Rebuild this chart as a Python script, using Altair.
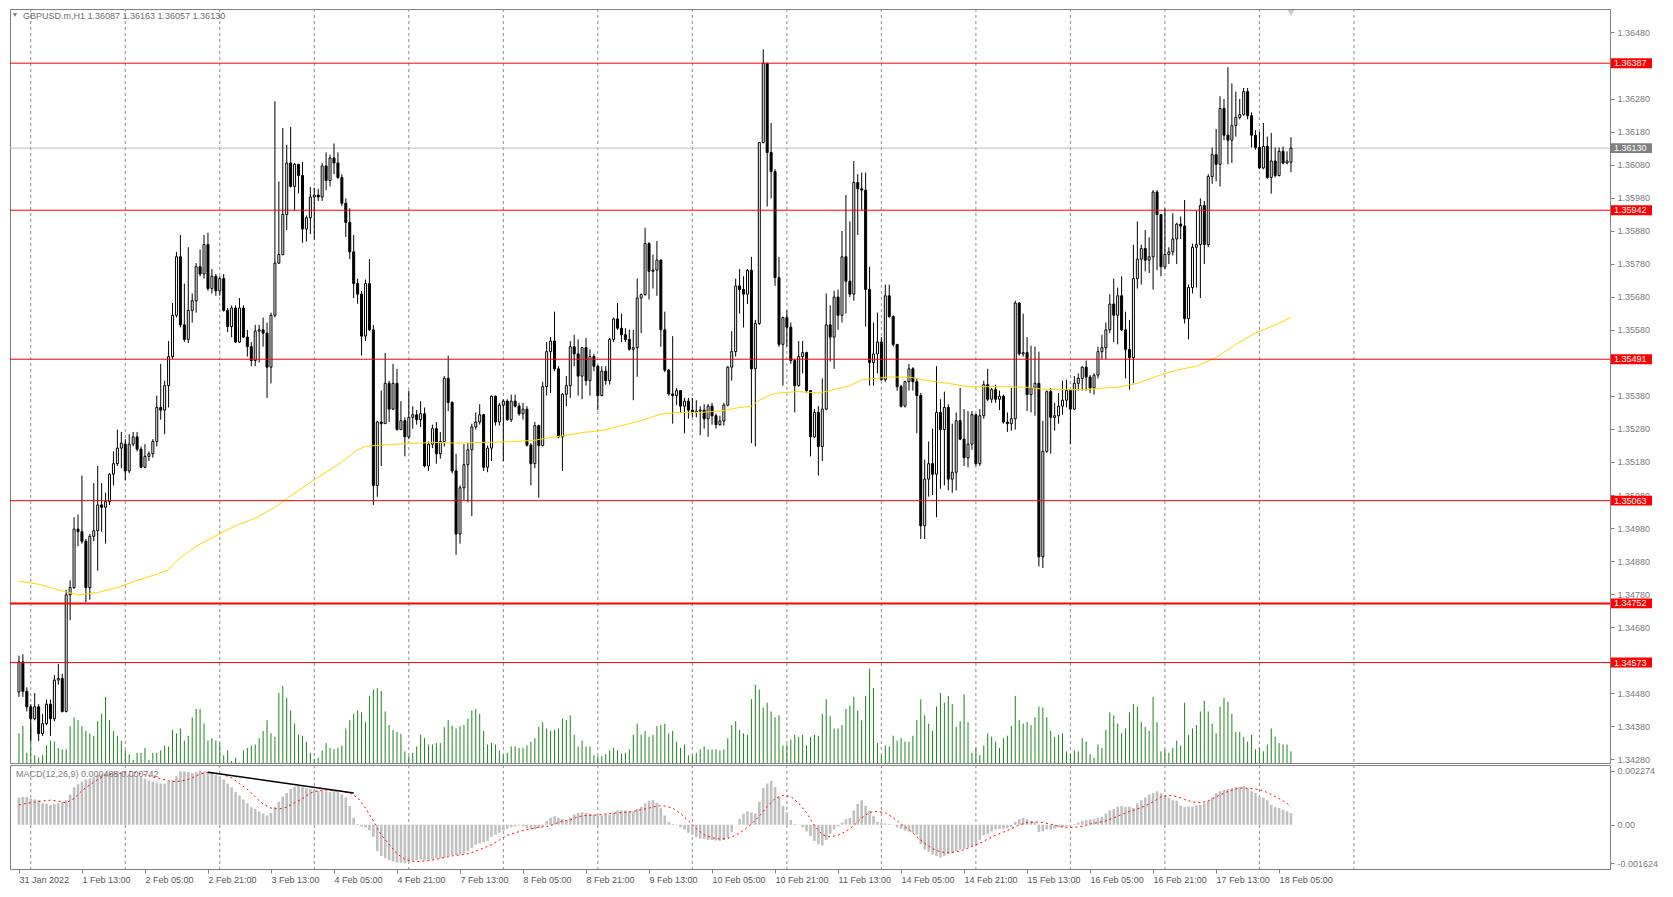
import altair as alt
import pandas as pd

# ---------------- data (prices in points, 1 point = 0.00001) ----------------
open_pts = [
134484,134575,134486,134439,134403,134439,134358,134388,134447,134403,
134520,134525,134425,134778,134800,134977,134969,134940,134800,134955,
134972,135050,135043,135060,135143,135175,135222,135234,135153,135234,
135256,135219,135164,135197,135205,135242,135345,135337,135411,135499,
135624,135801,135595,135551,135639,135668,135771,135749,135838,135705,
135742,135698,135735,135639,135590,135646,135543,135646,135558,135529,
135487,135576,135580,135570,135467,135624,135782,135808,135929,136085,
136014,136081,136047,135885,135919,135982,135988,135982,136076,136032,
136100,136085,136041,135963,135905,135816,135720,135688,135561,135720,
135580,135109,135301,135296,135418,135340,135418,135278,135305,135256,
135315,135323,135308,135326,135168,135234,135281,135205,135242,135433,
135360,135153,134962,135102,135172,135217,135286,135301,135323,135164,
135222,135379,135301,135352,135364,135308,135364,135349,135326,135340,
135231,135175,135290,135230,135408,135514,135546,135462,135256,135385,
135411,135529,135507,135440,135526,135426,135499,135470,135381,135455,
135426,135551,135613,135585,135565,135551,135521,135526,135676,135687,
135841,135757,135761,135791,135580,135458,135386,135381,135396,135349,
135364,135337,135330,135334,135337,135311,135349,135320,135293,135304,
135352,135467,135514,135713,135702,135688,135760,135462,135599,136147,
136387,136117,136059,135738,135536,135617,135588,135487,135411,135499,
135511,135396,135256,135330,135227,135340,135595,135558,135679,135624,
135801,135727,135688,136026,136007,136003,135702,135481,135507,135543,
135429,135683,135620,135536,135408,135349,135423,135462,135423,135381,
134987,135128,135175,135143,135330,135278,135345,135128,135149,135305,
135249,135193,135234,135323,135175,135320,135414,135370,135399,135370,
135379,135301,135296,135311,135661,135507,135511,135384,135404,135418,
134893,135212,135393,135315,135320,135349,135367,135396,135340,135418,
135433,135467,135437,135404,135443,135514,135526,135580,135658,135624,
135683,135580,135521,135496,135735,135794,135826,135791,135801,135997,
135929,135771,135808,135816,135855,135900,135894,135614,135708,135830,
135838,135956,135838,136044,136110,136081,136250,136169,136154,136198,
136223,136232,136301,136228,136169,136132,136070,136135,136041,136091,
136047,136120,136085,136087]

high_pts = [
134594,134598,134498,134447,134481,134447,134417,134461,134461,134535,
134569,134539,134793,134822,135013,135021,135139,134947,134962,135116,
135168,135116,135087,135146,135212,135278,135271,135249,135264,135271,
135271,135227,135234,135212,135249,135381,135477,135426,135546,135661,
135816,135867,135720,135830,135690,135782,135823,135867,135874,135764,
135749,135742,135749,135646,135654,135654,135676,135654,135580,135543,
135595,135595,135617,135602,135632,136272,136029,136191,136140,136194,
136085,136081,136088,135926,136012,136010,136007,136085,136117,136110,
136144,136117,136051,135978,135948,135867,135735,135698,135732,135794,
135595,135305,135396,135510,135426,135477,135462,135364,135315,135396,
135349,135337,135364,135345,135242,135293,135301,135271,135440,135502,
135364,135205,135109,135234,135237,135296,135330,135355,135326,135230,
135381,135381,135359,135370,135370,135384,135384,135359,135359,135349,
135237,135301,135293,135423,135543,135558,135635,135470,135389,135440,
135546,135565,135551,135529,135555,135521,135507,135473,135470,135470,
135555,135617,135661,135629,135585,135580,135580,135735,135690,135889,
135845,135808,135849,135794,135635,135462,135561,135404,135396,135374,
135374,135374,135367,135349,135355,135355,135359,135326,135320,135359,
135470,135576,135735,135764,135742,135764,135801,135610,136147,136429,
136387,136206,136066,135801,135620,135639,135602,135492,135546,135546,
135514,135396,135340,135349,135433,135690,135654,135698,135702,135879,
135988,135908,136091,136051,136056,136056,135771,135602,135632,135558,
135717,135717,135624,135536,135414,135426,135477,135467,135433,135389,
135187,135242,135281,135470,135370,135393,135355,135296,135330,135404,
135340,135334,135334,135326,135340,135426,135462,135404,135414,135396,
135384,135330,135404,135668,135664,135629,135558,135532,135529,135514,
135305,135396,135404,135359,135389,135426,135429,135399,135440,135448,
135470,135487,135443,135448,135529,135565,135602,135688,135735,135708,
135742,135635,135610,135838,135908,135838,135882,135860,136003,136003,
135929,135948,135830,135933,135904,135923,135973,135717,135841,135941,
135978,135970,136051,136132,136188,136287,136279,136375,136326,136301,
136279,136312,136312,136238,136184,136179,136206,136165,136176,136132,
136132,136135,136120,136163]

low_pts = [
134469,134469,134425,134336,134398,134336,134351,134383,134351,134395,
134506,134422,134422,134701,134796,134925,134933,134756,134763,134940,
134851,134969,134933,135050,135109,135168,135161,135124,135146,135227,
135212,135161,135161,135183,135193,135227,135308,135264,135345,135492,
135617,135587,135543,135540,135602,135632,135742,135735,135698,135690,
135683,135683,135635,135573,135558,135540,135540,135555,135499,135470,
135470,135481,135529,135374,135418,135617,135779,135805,135882,136011,
135941,135993,135843,135847,135870,135853,135970,135970,136003,136014,
136051,136037,135955,135861,135794,135676,135659,135502,135546,135576,
135050,135075,135168,135296,135301,135337,135275,135278,135197,135249,
135281,135293,135286,135164,135153,135222,135175,135190,135227,135334,
135146,134899,134933,135065,135058,135016,135278,135293,135153,135149,
135183,135290,135290,135183,135305,135301,135345,135320,135308,135227,
135109,135161,135072,135227,135381,135389,135455,135252,135153,135349,
135374,135470,135381,135370,135411,135381,135455,135337,135379,135414,
135414,135543,135580,135543,135543,135517,135367,135438,135570,135683,
135672,135705,135683,135529,135452,135381,135296,135352,135330,135267,
135311,135315,135315,135261,135281,135256,135293,135281,135290,135290,
135349,135426,135499,135629,135587,135658,135237,135227,135595,136144,
135953,135978,135713,135529,135411,135529,135477,135330,135408,135448,
135389,135197,135252,135139,135183,135337,135484,135462,135580,135602,
135629,135679,135668,135867,135941,135590,135411,135411,135448,135426,
135423,135617,135529,135396,135345,135345,135396,135396,135267,134947,
134947,135075,135080,135013,135099,135109,135094,135087,135094,135246,
135168,135164,135217,135168,135168,135311,135364,135359,135359,135337,
135296,135271,135275,135278,135502,135499,135334,135330,135320,134864,
134859,135208,135205,135275,135296,135323,135345,135234,135337,135396,
135396,135396,135389,135384,135433,135492,135492,135570,135543,135536,
135576,135433,135399,135418,135705,135717,135757,135752,135702,135761,
135742,135764,135779,135805,135779,135855,135599,135551,135690,135708,
135676,135779,135830,136022,136029,136014,136154,136081,136085,136165,
136217,136228,136217,136132,136125,136066,136066,136037,135992,136041,
136044,136081,136081,136057]

close_pts = [
134575,134486,134439,134403,134439,134358,134388,134447,134403,134520,
134525,134425,134778,134800,134977,134969,134940,134800,134955,134972,
135050,135043,135060,135143,135175,135222,135237,135153,135234,135256,
135219,135164,135197,135205,135242,135345,135337,135411,135499,135624,
135801,135595,135551,135639,135668,135771,135749,135838,135705,135742,
135698,135735,135639,135590,135646,135543,135646,135558,135529,135487,
135576,135580,135570,135467,135624,135782,135808,135929,136085,136014,
136081,136047,135885,135919,135982,135988,135982,136076,136032,136100,
136085,136041,135963,135905,135816,135720,135688,135561,135720,135580,
135109,135301,135296,135418,135340,135418,135278,135305,135256,135315,
135323,135308,135326,135168,135234,135281,135205,135242,135433,135360,
135153,134962,135102,135172,135217,135286,135301,135323,135164,135222,
135379,135301,135352,135364,135308,135364,135349,135326,135340,135231,
135175,135290,135230,135408,135514,135546,135462,135256,135385,135411,
135529,135507,135440,135526,135426,135499,135470,135381,135455,135426,
135551,135613,135585,135565,135551,135521,135526,135676,135687,135841,
135757,135761,135791,135580,135458,135386,135381,135396,135349,135364,
135337,135330,135334,135337,135311,135349,135320,135293,135304,135352,
135467,135514,135713,135702,135688,135760,135462,135599,136147,136387,
136117,136059,135738,135536,135617,135588,135487,135411,135499,135511,
135396,135256,135330,135227,135340,135595,135558,135679,135624,135801,
135727,135688,136026,136007,136003,135702,135481,135507,135543,135429,
135683,135620,135536,135408,135349,135423,135462,135423,135381,134987,
135128,135175,135143,135330,135278,135345,135128,135149,135305,135249,
135193,135234,135323,135175,135320,135414,135370,135399,135370,135379,
135301,135296,135311,135661,135507,135511,135384,135404,135418,134893,
135212,135393,135315,135320,135349,135367,135396,135340,135418,135433,
135467,135437,135404,135443,135514,135526,135580,135658,135624,135683,
135580,135521,135496,135735,135794,135826,135791,135801,135997,135929,
135771,135808,135816,135855,135900,135894,135614,135708,135830,135838,
135956,135838,136044,136110,136081,136250,136169,136154,136198,136223,
136232,136301,136228,136169,136132,136070,136135,136041,136091,136047,
136120,136085,136091,136130]

volume_ticks = [
1220,1520,420,1520,320,220,320,720,920,880,
620,560,560,1520,1880,1760,1520,1320,1220,1120,
1720,2020,2720,1760,1320,1120,920,520,360,120,
420,420,620,120,420,420,520,720,680,1360,
1220,1420,920,1120,1880,2220,2220,1620,920,1020,
920,820,320,520,80,220,20,520,620,720,
760,1020,1320,1760,1220,1080,2880,3160,2680,2160,
1620,1160,1120,880,420,160,220,520,820,620,
560,620,720,1420,1760,2020,2160,2080,1680,2760,
3020,3080,2960,2120,1560,1360,1280,1200,480,280,
420,680,1160,1020,760,760,820,820,1480,1760,
1520,1420,1520,1560,1820,2160,2220,2020,1320,760,
820,760,520,320,420,680,680,620,620,720,
880,1020,1480,1680,1420,1320,1360,1420,1820,1760,
1960,1160,680,920,680,680,320,280,280,360,
520,620,520,380,420,560,1160,1620,1160,1320,
1080,1160,1520,1560,1620,1220,1320,880,620,760,
320,320,420,560,680,560,560,560,520,560,
1020,1560,1720,1360,1220,1160,2620,3220,3020,2280,
2480,2120,1880,1960,720,760,960,1160,1080,1160,
720,1080,1160,1120,2020,2620,1920,1420,1420,1560,
2220,2360,2720,2160,1760,2760,3880,3080,820,320,
720,680,1120,920,1020,880,880,1120,1760,2620,
1960,1620,1320,2320,2880,2480,2760,2420,1480,1720,
2820,1680,420,620,320,720,1220,1080,880,620,
1020,1120,1520,2760,1760,1620,1680,1560,1880,2320,
2280,1880,1320,1080,1160,1220,480,360,520,480,
1020,880,360,220,760,620,1360,2080,1960,1620,
1220,1420,2080,2420,2320,1680,1480,1320,2720,1680,
480,560,420,620,920,720,2480,1160,1420,1560,
2120,2560,2120,1620,1220,2320,2680,2520,2020,1280,
1280,1080,880,1160,560,620,480,760,1420,1080,
820,760,760,480]

macd_hist_pts = [
114,117,117,110,106,103,90,87,83,87,
90,96,103,127,157,170,181,190,194,200,
208,213,217,217,221,224,221,217,213,210,
204,200,194,186,181,177,173,173,181,186,
204,224,224,221,217,221,227,224,221,217,
210,204,190,173,157,137,123,106,90,74,
66,56,47,39,50,76,96,119,133,150,
159,163,159,154,150,146,143,143,141,137,
141,137,127,114,79,29,3,-7,-11,-24,
-51,-111,-131,-141,-149,-154,-158,-160,-162,-158,
-151,-149,-145,-149,-149,-145,-141,-141,-138,-131,
-127,-127,-125,-122,-111,-98,-84,-78,-74,-68,
-51,-42,-34,-24,-17,-11,-7,-4,-7,-15,
-20,-20,-15,-7,16,29,36,29,23,16,
29,43,50,52,50,47,43,39,39,43,
43,50,60,60,60,56,56,66,76,90,
101,103,92,70,39,12,3,-1,-11,-20,
-34,-42,-51,-58,-60,-64,-64,-66,-68,-64,
-55,-31,0,25,47,56,52,47,96,154,
173,184,159,119,79,52,20,3,-1,-11,
-28,-47,-68,-82,-87,-64,-38,-20,-7,9,
23,29,60,87,103,79,60,36,12,9,
5,3,-1,-11,-17,-24,-28,-34,-42,-82,
-105,-114,-125,-131,-138,-131,-122,-118,-111,-105,
-101,-95,-91,-78,-64,-44,-38,-28,-20,-17,
-17,-15,-11,12,23,29,23,16,12,-31,
-28,-20,-20,-15,-11,-11,-7,-4,3,9,
16,20,23,25,29,34,47,60,66,76,
79,74,76,70,90,103,114,127,133,141,
133,123,114,103,101,79,74,76,76,82,
83,90,101,114,133,141,146,150,154,157,
159,163,154,141,133,119,114,103,83,74,
70,63,56,49]

signal_bars = list(range(0, 323, 2)) + [323]
signal_pts = [
83,90,95,100,103,99,92,110,143,168,
190,208,213,217,224,217,210,200,194,184,
181,186,197,213,221,217,210,197,173,150,
117,87,70,66,74,92,110,133,143,146,
143,141,133,114,70,16,-44,-82,-122,-145,
-154,-154,-151,-145,-138,-131,-127,-122,-111,-98,
-84,-64,-44,-34,-24,-17,-11,-8,3,16,
20,34,39,40,43,47,50,52,56,63,
70,79,79,70,47,16,-17,-42,-55,-60,
-58,-44,-24,3,36,76,110,123,119,90,
50,-4,-42,-51,-44,-28,-4,29,52,56,
50,29,3,-20,-51,-78,-101,-114,-118,-114,
-105,-91,-78,-60,-44,-31,-17,-1,9,12,
9,3,-7,-11,-11,-7,3,9,16,29,
43,56,66,79,96,117,123,119,106,96,
92,100,117,133,146,154,154,150,143,127,
110,90,74]

ma_bars = [0,5,10,15,20,25,30,35,38,40,45,50,55,60,65,68,71,76,81,86,
           88,91,96,101,106,111,116,121,126,131,136,138,143,148,153,158,163,168,173,178,
           183,186,188,191,193,198,203,206,211,214,221,226,231,236,241,246,251,256,261,266,
           271,274,279,284,289,294,299,304,309,314,319,323]
ma_pts = [134819,134810,134793,134778,134785,134800,134822,134840,134854,134881,
          134925,134957,134987,135010,135043,135069,135094,135134,135172,135217,
          135227,135230,135234,135237,135239,135237,135239,135240,135242,135246,
          135256,135259,135269,135275,135290,135305,135325,135330,135330,135334,
          135345,135349,135367,135384,135389,135393,135389,135396,135411,135429,
          135437,135437,135426,135418,135408,135408,135408,135406,135399,135399,
          135399,135403,135406,135418,135440,135458,135470,135496,135536,135570,
          135595,135617]

trend_bars = [48, 85]
trend_pts = [221, 133]

time_labels = ["31 Jan 2022", "1 Feb 13:00", "2 Feb 05:00", "2 Feb 21:00", "3 Feb 13:00",
               "4 Feb 05:00", "4 Feb 21:00", "7 Feb 13:00", "8 Feb 05:00", "8 Feb 21:00",
               "9 Feb 13:00", "10 Feb 05:00", "10 Feb 21:00", "11 Feb 13:00", "14 Feb 05:00",
               "14 Feb 21:00", "15 Feb 13:00", "16 Feb 05:00", "16 Feb 21:00", "17 Feb 13:00",
               "18 Feb 05:00"]
label_step = 16
day_start_bars = [3, 27, 51, 75, 99, 123, 147, 171, 195, 219, 243, 267, 291, 315, 339]

red_levels = [1.36387, 1.35942, 1.35491, 1.35063, 1.34752, 1.34573]
red_widths = [1, 1, 1, 1, 2, 1]
current_price = 1.36130
# price scale labels visible in the reference (those fully covered by level tags are not drawn)
price_ticks = [1.3428, 1.3438, 1.3448, 1.3468, 1.3478, 1.3488, 1.3498, 1.3508,
               1.3518, 1.3528, 1.3538, 1.3558, 1.3568, 1.3578, 1.3588, 1.3598,
               1.3608, 1.3618, 1.3628, 1.3648]
macd_ticks = [0.002274, 0.0, -0.001624]
macd_tick_labels = ["0.002274", "0.00", "-0.001624"]
title_text = "GBPUSD.m,H1  1.36087 1.36163 1.36057 1.36130"
macd_text = "MACD(12,26,9) 0.000485 0.000742"

# ---------------- layout / style ----------------
W = 1600
H_MAIN = 754
H_MACD = 104
FONT = "Liberation Sans"
X_DOMAIN = [-1, 402.75]
PRICE_DOMAIN = [1.34269, 1.36551]
MACD_DOMAIN = [-0.00186, 0.00251]
VOL_DOMAIN = [0, 31000]
BOX_HALF = 0.00015

n = len(close_pts)
candles = pd.DataFrame({
    "bar": list(range(n)),
    "open": [v / 1e5 for v in open_pts],
    "high": [v / 1e5 for v in high_pts],
    "low": [v / 1e5 for v in low_pts],
    "close": [v / 1e5 for v in close_pts],
    "volume": volume_ticks,
    "macd": [v / 1e5 for v in macd_hist_pts],
})
sig_df = pd.DataFrame({"bar": signal_bars, "signal": [v / 1e5 for v in signal_pts]})
ma_df = pd.DataFrame({"bar": ma_bars, "ma": [v / 1e5 for v in ma_pts]})
trend_df = pd.DataFrame({"bar": trend_bars, "val": [v / 1e5 for v in trend_pts]})
grid_df = pd.DataFrame({"bar": day_start_bars})
lvl_df = pd.DataFrame({"level": red_levels, "w": red_widths})
box_df = pd.DataFrame({
    "level": red_levels + [current_price],
    "bg": ["#ff0000"] * len(red_levels) + ["#808080"],
})
box_df["top"] = box_df["level"] + BOX_HALF
box_df["bottom"] = box_df["level"] - BOX_HALF
box_df["label"] = [f"{v:.5f}" for v in box_df["level"]]
one = pd.DataFrame({"t": [title_text]})

x_scale = alt.Scale(domain=X_DOMAIN, nice=False, zero=False)
price_scale = alt.Scale(domain=PRICE_DOMAIN, nice=False, zero=False)
macd_scale = alt.Scale(domain=MACD_DOMAIN, nice=False, zero=False)

price_axis = alt.Axis(orient="right", values=price_ticks, format=".5f", title=None, grid=False,
                      domain=False, tickSize=4, tickColor="#808080", labelColor="#7a7a7a",
                      labelFont=FONT, labelFontSize=9, labelPadding=3, labelOverlap=False,
                      labelFlush=False)
macd_label_expr = " : ".join(
    f"abs(datum.value - ({v})) < 1e-7 ? '{s}'" for v, s in zip(macd_ticks, macd_tick_labels)
) + " : ''"
macd_axis = alt.Axis(orient="right", values=macd_ticks, labelExpr=macd_label_expr, title=None,
                     grid=False, domain=False, tickSize=4, tickColor="#808080",
                     labelColor="#7a7a7a", labelFont=FONT, labelFontSize=9, labelPadding=3,
                     labelOverlap=False, labelFlush=False)
label_js = "[" + ",".join("'" + s + "'" for s in time_labels) + "]"
label_bars = [i * label_step for i in range(len(time_labels))]
time_axis = alt.Axis(values=label_bars, labelExpr=f"{label_js}[round(datum.value/{label_step})]",
                     title=None, grid=False, domain=False, tickSize=4, tickColor="#808080",
                     labelColor="#555555", labelFont=FONT, labelFontSize=9, labelAlign="left",
                     labelPadding=2, labelOverlap=False, labelFlush=False)


def xm(field="bar"):
    return alt.X(f"{field}:Q", scale=x_scale, axis=None)


def xa(field="bar"):
    return alt.X(f"{field}:Q", scale=x_scale, axis=time_axis)


def py(field):
    return alt.Y(f"{field}:Q", scale=price_scale, axis=price_axis)


def my(field):
    return alt.Y(f"{field}:Q", scale=macd_scale, axis=macd_axis)


# ---------------- main price panel ----------------
grid_main = alt.Chart(grid_df).mark_rule(color="#8c8c8c", strokeDash=[3, 3], strokeWidth=1).encode(x=xm())
volume = alt.Chart(candles).mark_rule(color="#1a861a", strokeWidth=1).encode(
    x=xm(), y=alt.Y("volume:Q", scale=alt.Scale(domain=VOL_DOMAIN, nice=False), axis=None),
    y2=alt.datum(0))

cur_line = alt.Chart(pd.DataFrame({"p": [current_price]})).mark_rule(color="#c0c0c0", strokeWidth=1).encode(y=py("p"))
wicks = alt.Chart(candles).mark_rule(color="black", strokeWidth=1).encode(x=xm(), y=py("low"), y2="high")
bodies = alt.Chart(candles).mark_bar(size=2, stroke="black", strokeWidth=1).encode(
    x=xm(), y=py("open"), y2="close",
    fill=alt.condition("datum.close >= datum.open", alt.value("white"), alt.value("black")))
ma_line = alt.Chart(ma_df).mark_line(color="#ffd700", strokeWidth=1).encode(x=xm(), y=py("ma"))
levels = alt.Chart(lvl_df).mark_rule(color="#ff0000").encode(
    y=py("level"), strokeWidth=alt.StrokeWidth("w:Q", scale=None))
boxes = alt.Chart(box_df).mark_rect().encode(
    x=alt.value(W + 1), x2=alt.value(W + 42), y=py("top"), y2="bottom",
    color=alt.Color("bg:N", scale=None))
box_text = alt.Chart(box_df).mark_text(align="left", baseline="middle", font=FONT, fontSize=9,
                                       color="white").encode(
    x=alt.value(W + 4), y=py("level"), text="label:N")
title_mark = alt.Chart(one).mark_text(align="left", baseline="middle", font=FONT, fontSize=9,
                                      color="#6e6e6e").encode(
    x=alt.value(13), y=alt.value(7), text="t:N")
title_tri = alt.Chart(one).mark_point(shape="triangle-down", filled=True, size=18,
                                      color="#707070", opacity=1).encode(
    x=alt.value(5), y=alt.value(6))
shift_tri = alt.Chart(pd.DataFrame({"bar": [n - 1]})).mark_point(
    shape="triangle-down", filled=True, size=45, color="#c8c8c8", opacity=1).encode(
    x=xm(), y=alt.value(4))

price_layer = alt.layer(cur_line, wicks, bodies, ma_line, levels, boxes, box_text,
                        title_mark, title_tri, shift_tri)
main = alt.layer(grid_main, volume, price_layer).resolve_scale(y="independent").properties(
    width=W, height=H_MAIN)

# ---------------- MACD panel ----------------
grid_macd = alt.Chart(grid_df).mark_rule(color="#8c8c8c", strokeDash=[3, 3], strokeWidth=1).encode(x=xa())
hist = alt.Chart(candles).mark_bar(size=2.6, color="#c0c0c0").encode(x=xa(), y=my("macd"), y2=alt.datum(0))
signal = alt.Chart(sig_df).mark_line(color="#ff0000", strokeWidth=1, strokeDash=[2, 3]).encode(
    x=xa(), y=my("signal"))
trend = alt.Chart(trend_df).mark_line(color="black", strokeWidth=1.5).encode(x=xa(), y=my("val"))
macd_title = alt.Chart(pd.DataFrame({"t": [macd_text]})).mark_text(
    align="left", baseline="middle", font=FONT, fontSize=9, color="#7a7a7a").encode(
    x=alt.value(6), y=alt.value(9), text="t:N")

macd = alt.layer(grid_macd, hist, signal, trend, macd_title).properties(width=W, height=H_MACD)

chart = alt.vconcat(main, macd, spacing=2, bounds="flush").properties(
    padding=0, background="white").configure_view(stroke="#808080", strokeWidth=1)

chart.save("out.html", embed_options={"renderer": "svg", "actions": False})
